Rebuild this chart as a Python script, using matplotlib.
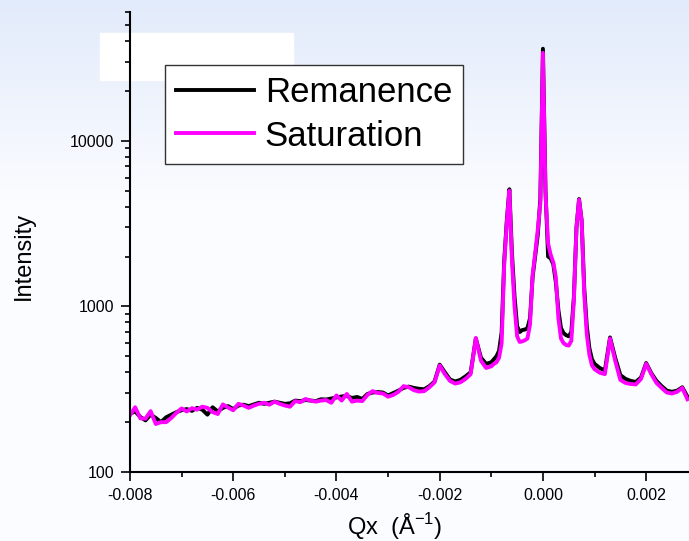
import matplotlib.pyplot as plt
import numpy as np
from matplotlib.patches import Rectangle
from matplotlib.ticker import LogLocator, NullFormatter, MultipleLocator

plt.rcParams['font.family'] = ['Liberation Sans', 'DejaVu Sans']
plt.rcParams['mathtext.fontset'] = 'custom'
plt.rcParams['mathtext.rm'] = 'Liberation Sans'

# Qx sample grid: coarse in the tails, finer around the specular peak
qx = np.round(np.concatenate([np.arange(-80, -9) * 1e-4,
                              np.arange(-19, 20) * 5e-5,
                              np.arange(10, 29) * 1e-4]), 6)

# Saturation (magenta)
sat_left = [220, 246, 211, 210, 233, 195, 200, 200, 212, 228,
            242, 232, 243, 238, 248, 244, 230, 224, 256, 245,
            236, 258, 252, 244, 252, 258, 262, 255, 266, 258,
            252, 248, 268, 264, 276, 270, 266, 270, 272, 262,
            290, 270, 296, 266, 270, 268, 292, 308, 300, 298,
            285, 292, 305, 330, 325, 312, 306, 308, 325, 348,
            440, 390, 355, 342, 348, 365, 390, 645, 470, 425,
            435]
sat_mid = [450, 460, 490, 600, 1800, 3200, 5000, 1900, 1000, 660,
           610, 615, 625, 640, 780, 1550, 2100, 2900, 4200, 34000,
           4800, 2400, 2050, 1850, 1500, 850, 640, 600, 585, 580,
           620, 1100, 3000, 4400, 3300, 1200, 680, 510, 440]
sat_right = [418, 398, 390, 640, 470, 360, 345, 340, 338, 365,
             450, 390, 345, 322, 302, 298, 305, 322, 275]

# Remanence (black)
rem_left = [225, 232, 215, 205, 222, 212, 200, 214, 222, 230,
            236, 240, 234, 244, 238, 222, 246, 232, 244, 250,
            240, 252, 255, 250, 256, 262, 258, 262, 266, 262,
            258, 260, 270, 268, 272, 270, 268, 275, 274, 278,
            282, 286, 288, 280, 284, 276, 296, 302, 304, 302,
            290, 300, 310, 322, 328, 322, 318, 316, 330, 352,
            445, 400, 362, 352, 360, 378, 400, 640, 490, 450,
            460]
rem_mid = [480, 500, 540, 700, 1900, 3300, 5100, 2100, 1150, 760,
           700, 720, 725, 740, 850, 1500, 2000, 2700, 4500, 36000,
           5000, 2000, 1950, 1800, 1400, 950, 740, 690, 670, 660,
           700, 1150, 3000, 4450, 3300, 1300, 760, 560, 480]
rem_right = [450, 425, 410, 650, 490, 385, 365, 355, 350, 372,
             455, 395, 355, 330, 310, 305, 310, 325, 285]

sat = sat_left + sat_mid + sat_right
rem = rem_left + rem_mid + rem_right

xticks = [-0.008, -0.006, -0.004, -0.002, 0.000, 0.002]
yticks = [100, 1000, 10000]

fig = plt.figure(figsize=(6.89, 5.41), dpi=100)

# slide-like background gradient
bg = fig.add_axes([0, 0, 1, 1], zorder=-10)
rows = np.arange(541)
top = np.array([226, 235, 251]) / 255
low = np.array([251, 252, 255]) / 255
w = np.clip(rows / 200.0, 0, 1)[:, None]
img = (top * (1 - w) + low * w)[:, None, :]
bg.imshow(img, aspect='auto', extent=[0, 1, 0, 1])
bg.add_patch(Rectangle((100 / 689, 1 - 80 / 541), 193 / 689, 47 / 541,
                       color='white', transform=bg.transAxes))
bg.set_xlim(0, 1)
bg.set_ylim(0, 1)
bg.axis('off')

ax = fig.add_axes([130 / 689, 69 / 541, 559 / 689, 460 / 541])
ax.set_facecolor('none')

ax.plot(qx, rem, color='black', lw=2.8, label='Remanence')
ax.plot(qx, sat, color='#ff00ff', lw=2.8, label='Saturation')

ax.set_yscale('log')
ax.set_xlim(-0.008, 0.00283)
ax.set_ylim(100, 60000)

for s in ['top', 'right']:
    ax.spines[s].set_visible(False)
for s in ['left', 'bottom']:
    ax.spines[s].set_linewidth(1.5)

ax.set_xticks(xticks)
ax.set_xticklabels(['%.3f' % t for t in xticks])
ax.xaxis.set_minor_locator(MultipleLocator(0.001))
ax.set_yticks(yticks)
ax.set_yticklabels([str(t) for t in yticks])
ax.yaxis.set_minor_locator(LogLocator(base=10, subs=np.arange(2, 10)))
ax.yaxis.set_minor_formatter(NullFormatter())

ax.tick_params(which='major', direction='out', length=6.5, width=1.2,
               labelsize=11.5, pad=5)
ax.tick_params(which='minor', direction='out', length=3.5, width=1.2)

ax.set_xlabel('Qx  (Å$^{-1}$)', fontsize=17)
ax.xaxis.set_label_coords(0.474, -0.085)
ax.set_ylabel('Intensity', fontsize=17)
ax.yaxis.set_label_coords(-0.17, 0.47)

leg = ax.legend(loc='upper left', bbox_to_anchor=(0.0626, 0.8848),
                borderaxespad=0, fontsize=25, handlelength=2.25,
                handletextpad=0.3, borderpad=0.32, labelspacing=0.3,
                fancybox=False, edgecolor='#333333', framealpha=1)
leg.get_frame().set_linewidth(1.0)

fig.savefig('out.png', dpi=100)
